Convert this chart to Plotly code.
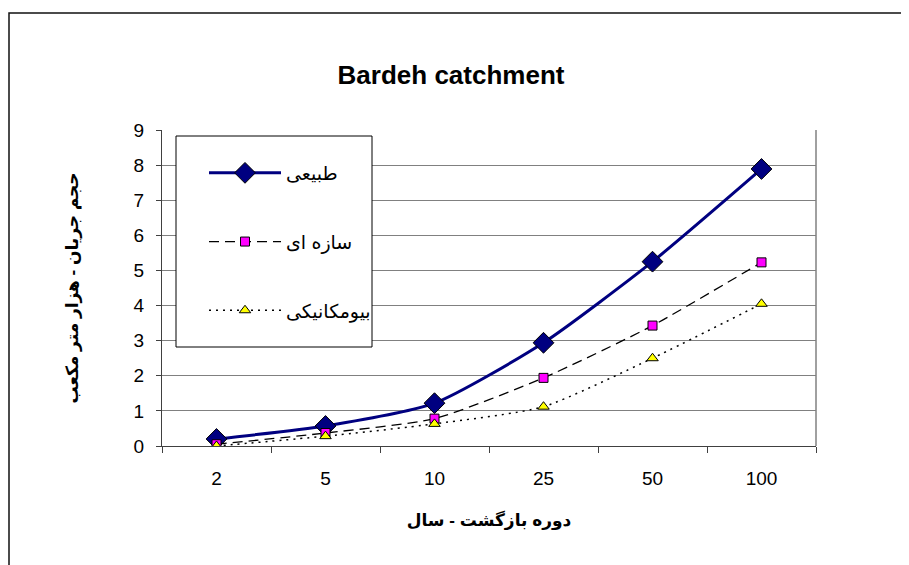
import plotly.graph_objects as go

categories = ["2", "5", "10", "25", "50", "100"]
natural = [0.2, 0.57, 1.22, 2.94, 5.25, 7.89]
structural = [0.05, 0.37, 0.78, 1.94, 3.43, 5.23]
biomechanical = [0.0, 0.28, 0.63, 1.12, 2.5, 4.05]
names = ["طبیعی", "سازه ای", "بیومکانیکی"]
y_ticks = list(range(0, 10))

OFF = 8  # page body margin
W, H = 909 - OFF, 565 - OFF
L, R, T, B = 162 - OFF, 816 - OFF, 130 - OFF, 446 - OFF

def px(x):  # screen px -> paper
    return (x - OFF - L) / (R - L)

def py(y):
    return (B - (y - OFF)) / (B - T)

FONT = "Arial, Liberation Sans, DejaVu Sans, sans-serif"

fig = go.Figure()
fig.add_trace(go.Scatter(
    x=categories, y=natural, name=names[0], mode="lines+markers",
    line=dict(color="#000080", width=3, shape="spline", smoothing=0.6),
    marker=dict(symbol="diamond", size=16, color="#000080",
                line=dict(color="#000000", width=1)),
    legendgroup="a"))
fig.add_trace(go.Scatter(
    x=categories, y=structural, name=names[1], mode="lines+markers",
    line=dict(color="#000000", width=1.3, dash="10px,6px", shape="spline", smoothing=0.6),
    marker=dict(symbol="square", size=9, color="#FF00FF",
                line=dict(color="#000000", width=1)),
    legendgroup="b"))
fig.add_trace(go.Scatter(
    x=categories, y=biomechanical, name=names[2], mode="lines+markers",
    line=dict(color="#000000", width=1.5, dash="2px,5px", shape="spline", smoothing=0.6),
    marker=dict(symbol="triangle-up", size=10, color="#FFFF00",
                line=dict(color="#000000", width=1)),
    legendgroup="c"))

fig.update_layout(
    width=W, height=H,
    margin=dict(l=L, r=W - R, t=T, b=H - B, pad=0),
    paper_bgcolor="white", plot_bgcolor="white",
    font=dict(family=FONT, size=19, color="black"),
    title=dict(text="<b>Bardeh catchment</b>", x=px(451), xref="paper",
               y=1 - (75 - OFF) / H, yref="container", xanchor="center", yanchor="middle",
               font=dict(size=26, family=FONT)),
    showlegend=True,
    legend=dict(x=px(204), y=py(154), xanchor="left", yanchor="top",
                bgcolor="rgba(0,0,0,0)", borderwidth=0,
                font=dict(size=19, family=FONT),
                itemwidth=72, tracegroupgap=41,
                traceorder="grouped"),
    xaxis=dict(type="category", tickson="boundaries", ticks="outside",
               ticklen=6, tickcolor="#404040", showline=True, linecolor="#404040",
               linewidth=1, showgrid=False, zeroline=False,
               tickfont=dict(size=19), range=[-0.5, 5.5], ticklabelstandoff=15,
               title=dict(text="<b>دوره بازگشت - سال</b>", font=dict(size=17), standoff=26)),
    yaxis=dict(range=[0, 9], tickvals=y_ticks, ticks="outside", ticklen=5,
               tickcolor="#404040", showline=True, linecolor="#404040", linewidth=1,
               showgrid=True, gridcolor="#808080", gridwidth=1, zeroline=False,
               tickfont=dict(size=19), ticklabelstandoff=8,
               title=dict(text="<b>حجم جریان - هزار متر مکعب</b>", font=dict(size=17), standoff=50)),
    shapes=[
        dict(type="rect", xref="paper", yref="paper",
             x0=px(9), x1=px(940), y0=py(13), y1=py(620),
             line=dict(color="#111111", width=1.5), fillcolor="rgba(0,0,0,0)", layer="below"),
        dict(type="line", xref="paper", yref="paper",
             x0=1, x1=1, y0=0, y1=1, line=dict(color="#808080", width=1.5), layer="below"),
        dict(type="rect", xref="paper", yref="paper",
             x0=px(176), x1=px(372), y0=py(136), y1=py(347),
             line=dict(color="#000000", width=1), fillcolor="white", layer="above"),
    ],
)

fig.write_html("out.html")
